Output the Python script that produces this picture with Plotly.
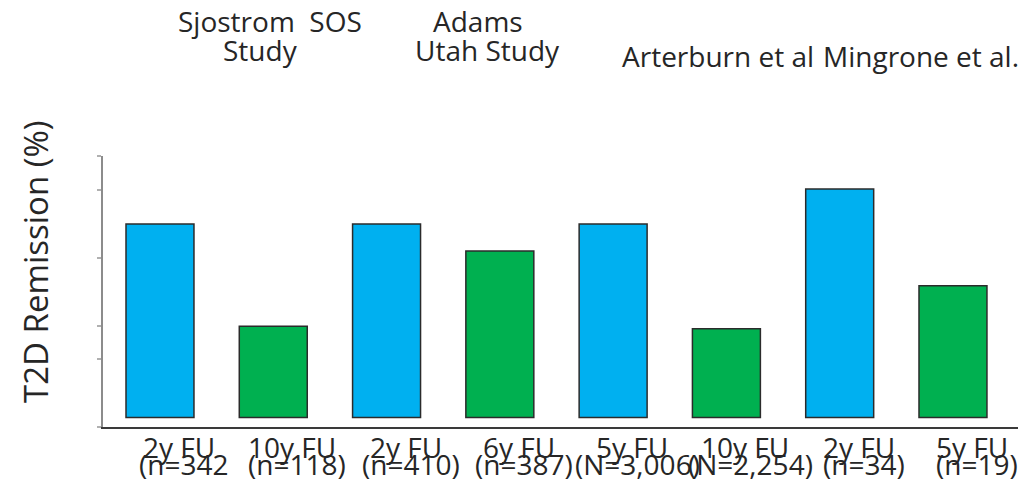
import plotly.graph_objects as go

# Remission rates per study arm (%)
followup = ["2y FU", "10y FU", "2y FU", "6y FU", "5y FU", "10y FU", "2y FU", "5y FU"]
cohort = ["(n=342", "(n=118)", "(n=410)", "(n=387)", "(N=3,006)", "(N=2,254)", "(n=34)", "(n=19)"]
remission = [72, 34, 72, 62, 72, 33, 85, 49]
bar_colors = ["#00B0F0", "#00B050", "#00B0F0", "#00B050", "#00B0F0", "#00B050", "#00B0F0", "#00B050"]

# Study headings (line 1, line 2)
study_line1 = ["Sjostrom  SOS", "Adams", "Arterburn et al", "Mingrone et al."]
study_line2 = ["Study", "Utah Study", "", ""]

y_ticks = [-3.5, 21.8, 34.0, 59.3, 84.6, 97.3]

FONT = "'Open Sans', Lato, sans-serif"
TXT = "#262626"

W, H = 1032, 492
L, R, T, B = 103, 14, 156, 65
pw, ph = W - L - R, H - T - B

def px_x(p):
    return (p - L) / pw

def px_y(p):
    return (H - B - p) / ph

idx = list(range(len(remission)))

fig = go.Figure(go.Bar(
    x=idx,
    y=remission,
    width=0.6,
    marker=dict(color=bar_colors, line=dict(color="#2b2b2b", width=1.5)),
    hoverinfo="y",
))

ann = []
for i in idx:
    ann.append(dict(x=i, y=0, xref="x", yref="paper", yanchor="top", xanchor="center",
                    yshift=1.5, xshift=19, text=followup[i], showarrow=False,
                    font=dict(family=FONT, size=28, color=TXT)))
    ann.append(dict(x=i, y=0, xref="x", yref="paper", yanchor="top", xanchor="center",
                    yshift=-16, xshift=24, text=cohort[i], showarrow=False,
                    font=dict(family=FONT, size=28, color=TXT)))

# study headings
head_x = [270, 478, 718, 921]
head_x2 = [260, 487]
for k in range(4):
    y1 = 21 if study_line2[k] else 56
    ann.append(dict(x=px_x(head_x[k]), y=px_y(y1), xref="paper", yref="paper",
                    xanchor="center", yanchor="middle", text=study_line1[k], showarrow=False,
                    font=dict(family=FONT, size=28, color=TXT)))
    if study_line2[k]:
        ann.append(dict(x=px_x(head_x2[k]), y=px_y(50),
                        xref="paper", yref="paper", xanchor="center", yanchor="middle",
                        text=study_line2[k], showarrow=False,
                        font=dict(family=FONT, size=28, color=TXT)))

ann.append(dict(x=px_x(35), y=px_y(262), xref="paper", yref="paper", xanchor="center",
                yanchor="middle", text="T2D Remission (%)", textangle=-90, showarrow=False,
                font=dict(family=FONT, size=33, color=TXT)))

fig.update_layout(
    width=W, height=H,
    margin=dict(l=L, r=R, t=T, b=B, pad=0),
    paper_bgcolor="white", plot_bgcolor="white",
    showlegend=False,
    annotations=ann,
    xaxis=dict(range=[-0.503, 7.574], showgrid=False, zeroline=False, showticklabels=False,
               showline=True, linecolor="#3a3a3a", linewidth=1.5, ticks=""),
    yaxis=dict(range=[-3.53, 97.3], showgrid=False, zeroline=False, showticklabels=False,
               showline=True, linecolor="#8c8c8c", linewidth=2,
               tickmode="array", tickvals=y_ticks, ticks="outside", ticklen=4,
               tickcolor="#b0b0b0", tickwidth=2),
)

fig.write_html("out.html")
